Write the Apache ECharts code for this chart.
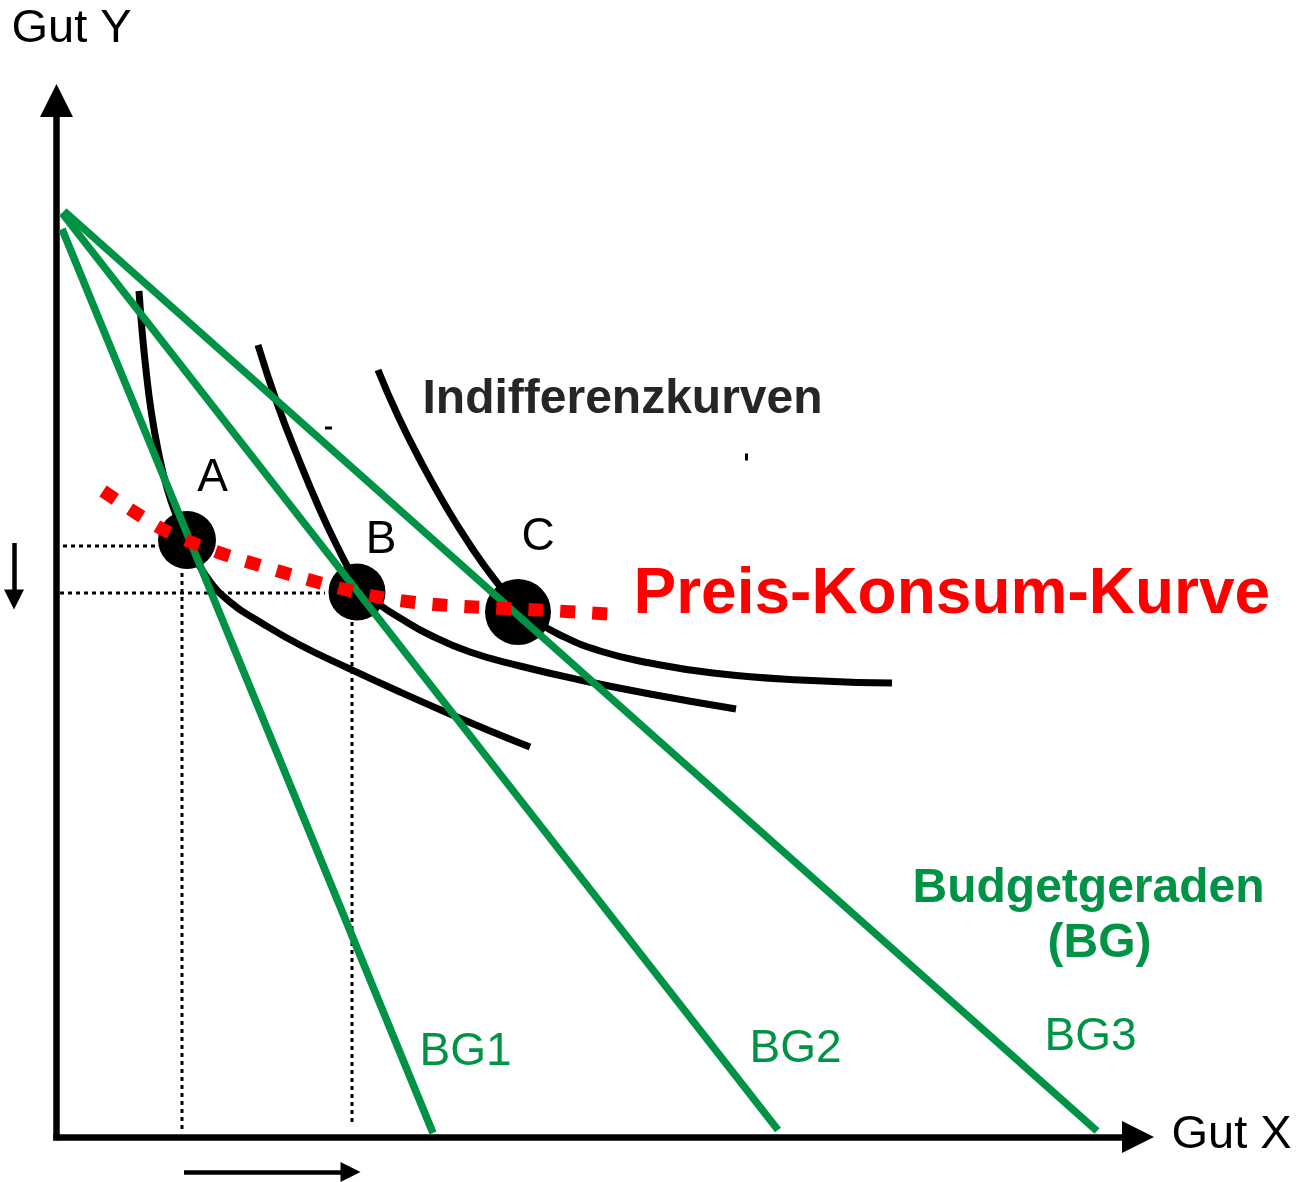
<!DOCTYPE html>
<html><head><meta charset="utf-8">
<script src="https://cdn.jsdelivr.net/npm/echarts@6/dist/echarts.min.js"></script>
<style>html,body{margin:0;padding:0;background:#fff}#chart{width:1314px;height:1182px}</style>
</head><body><div id="chart"></div>
<script>
// Units: 1 unit = 10 px; origin at the axis corner
const axisXMax = 108.15;
const axisYMax = 103.65;

// Indifferenzkurven
const indifferenceCurve1 = [[8.25,84.6],[8.55,80.7],[8.95,76.7],[9.45,72.7],[10.15,68.7],[11.05,64.9],[12.15,61.7],[13.35,59.0],[14.95,56.1],[17.35,53.5],[20.35,51.5],[24.35,49.2],[29.35,46.8],[34.35,44.5],[39.35,42.3],[44.35,40.2],[47.35,39.0]];
const indifferenceCurve2 = [[20.15,79.2],[22.05,73.4],[24.05,68.2],[26.35,62.7],[28.35,58.5],[29.55,56.3],[30.75,54.6],[32.35,53.2],[34.35,51.9],[37.35,50.2],[41.35,48.5],[46.35,47.1],[52.35,45.7],[59.35,44.3],[67.95,42.8]];
const indifferenceCurve3 = [[32.15,76.7],[34.15,72.1],[36.35,67.7],[38.85,63.2],[41.35,59.2],[43.85,55.7],[45.85,53.4],[47.85,51.7],[50.35,50.2],[54.35,48.6],[59.35,47.4],[65.65,46.4],[74.35,45.7],[83.55,45.4]];

// Budgetgeraden
const budgetLine1 = [[0.55,90.8],[37.65,0.4]];
const budgetLine2 = [[0.55,92.4],[72.15,0.7]];
const budgetLine3 = [[0.75,92.6],[104.05,0.6]];

// Preis-Konsum-Kurve
const priceConsumptionCurve = [[4.65,64.6],[7.95,62.4],[10.75,60.7],[13.65,59.4],[16.65,58.3],[19.85,57.3],[22.85,56.4],[26.05,55.5],[29.05,54.7],[32.15,54.0],[35.45,53.5],[38.55,53.2],[41.85,53.0],[48.35,52.7],[55.15,52.3]];

// Optimal points A, B, C
const optimumNames = ['A','B','C'];
const optimumPoints = [[13.05,59.7],[30.05,54.5],[46.15,52.5]];

// Guide lines (dotted)
const guideLines = [
  [[0.65,59.1],[9.85,59.1]],
  [[0.35,54.4],[26.85,54.4]],
  [[12.55,56.4],[12.55,0.4]],
  [[29.55,51.5],[29.55,1.2]]
];

// Change arrows (outside the axes)
const changeArrows = [
  [[-4.25,59.4],[-4.25,53.75]],
  [[12.75,-3.5],[29.4,-3.5]]
];

// stray marks in the source
const strayMarks = [
  [[26.85,70.9],[27.55,70.9]],
  [[69.0,68.35],[69.0,67.65]]
];

// Text anchors
const axisTitles = ['Gut Y','Gut X'];
const axisTitlePos = [[-4.55,110.75],[111.45,0.15]];
const pointLabelPos = [[15.6,65.9],[32.45,59.7],[48.15,60.0]];
const budgetLabels = ['BG1','BG2','BG3'];
const budgetLabelPos = [[36.25,8.5],[69.25,8.8],[98.75,10.0]];
const curveTitles = ['Indifferenzkurven','Preis-Konsum-Kurve','Budgetgeraden','(BG)'];
const curveTitlePos = [[36.55,73.7],[57.65,54.14],[85.55,24.85],[99.05,19.35]];

const GREEN = '#009245';
const RED = '#ff0000';
const FONT = 'Liberation Sans, Arial, sans-serif';

function lineSeries(data, color, width, type, z, smooth) {
  return {type:'line', data, smooth: smooth || false, symbol:'none', showSymbol:false, silent:true,
    clip:false, z, lineStyle:{color, width, type: type || 'solid', cap:'butt', join:'round', opacity:1}};
}
function textSeries(texts, positions, style, position, z) {
  return {type:'scatter', silent:true, clip:false, z: z || 10, symbolSize:1,
    itemStyle:{color:'rgba(0,0,0,0)', opacity:1},
    data: texts.map((t,i)=>({value:positions[i], name:t})),
    label:Object.assign({show:true, position: position || 'right', distance:0, opacity:1,
      formatter:(p)=>p.name, fontFamily:FONT}, style)};
}

const series = [];
[indifferenceCurve1, indifferenceCurve2, indifferenceCurve3].forEach(c=>series.push(lineSeries(c,'#000',7,'solid',2,0.5)));
guideLines.forEach(g=>series.push(lineSeries(g,'#000',3,[4,4],1)));
strayMarks.forEach(g=>series.push(lineSeries(g,'#000',3,'solid',1)));
series.push({type:'scatter', silent:true, z:3, symbol:'circle',
  data: optimumPoints.map((p,i)=>({value:p, symbolSize:[58,57,66][i]})),
  itemStyle:{color:'#000', opacity:1}});
[budgetLine1, budgetLine2, budgetLine3].forEach(b=>series.push(lineSeries(b,GREEN,7.5,'solid',4)));
series.push(lineSeries(priceConsumptionCurve,RED,13,[15,17],5,0.3));
series.push({type:'lines', coordinateSystem:'cartesian2d', silent:true, clip:false, z:5,
  symbol:['none','triangle'], symbolSize:20,
  lineStyle:{color:'#000', width:4.5, opacity:1, curveness:0},
  data: changeArrows.map(a=>({coords:a}))});
series.push(textSeries(axisTitles, axisTitlePos, {fontSize:47, color:'#000'}));
series.push(textSeries(optimumNames, pointLabelPos, {fontSize:46, color:'#000'}, 'inside'));
series.push(textSeries(budgetLabels, budgetLabelPos, {fontSize:46, color:GREEN}));
series.push(textSeries([curveTitles[0]], [curveTitlePos[0]], {fontSize:48, fontWeight:'bold', color:'#262626'}));
series.push(textSeries([curveTitles[1]], [curveTitlePos[1]], {fontSize:64, fontWeight:'bold', color:RED}));
series.push(textSeries(curveTitles.slice(2), curveTitlePos.slice(2), {fontSize:48, fontWeight:'bold', color:GREEN}));

const chart = echarts.init(document.getElementById('chart'), null, {renderer:'canvas'});
chart.setOption({
  animation:false,
  backgroundColor:'#fff',
  grid:{left:56.5, right:176, top:100.5, bottom:45, containLabel:false},
  xAxis:{type:'value', min:0, max:axisXMax, splitLine:{show:false}, axisTick:{show:false}, axisLabel:{show:false},
    axisLine:{show:true, onZero:false, symbol:['none','triangle'], symbolSize:[32,32], lineStyle:{color:'#000', width:6.5, cap:'square'}}},
  yAxis:{type:'value', min:0, max:axisYMax, splitLine:{show:false}, axisTick:{show:false}, axisLabel:{show:false},
    axisLine:{show:true, onZero:false, symbol:['none','triangle'], symbolSize:[33,33], lineStyle:{color:'#000', width:6.5, cap:'square'}}},
  series
});
</script></body></html>
